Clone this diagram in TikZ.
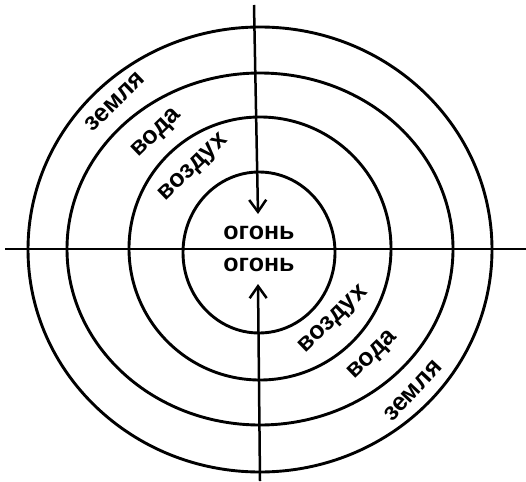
\documentclass[tikz,border=0pt]{standalone}
\usepackage{fontspec}
\setmainfont{Liberation Sans}
\usetikzlibrary{arrows.meta}
\tikzset{
  ring/.style={line width=2.9pt},
  axis/.style={line width=2.5pt},
  arr/.style={line width=2.5pt,-{Straight Barb[length=12pt,width=17pt,line width=2.5pt]}},
  lbl/.style={font=\bfseries\fontsize{25}{25}\selectfont, inner sep=0pt},
  rlbl/.style={lbl, rotate=44},
}
\begin{document}
\begin{tikzpicture}[x=1pt,y=-1pt]
\useasboundingbox (0,0) rectangle (526,481);
% rings
\draw[ring] (260,249.5) ellipse [x radius=232pt, y radius=222.5pt];
\draw[ring] (260,249) ellipse [x radius=193pt, y radius=176pt];
\draw[ring] (260,248.5) ellipse [x radius=131pt, y radius=131.5pt];
\draw[ring] (259,252.5) ellipse [x radius=76pt, y radius=80.5pt];
% axes
\coordinate (hl) at (5,249);
\coordinate (hr) at (526,249);
\draw[axis] (hl) -- (hr);
\coordinate (ts) at (254,5);
\coordinate (tt) at (258,214);
\coordinate (bs) at (260,481);
\coordinate (bt) at (258,284);
\draw[arr] (ts) -- (tt);
\draw[arr] (bs) -- (bt);
% labels
\node[lbl] (f1) at (259,233) {огонь};
\node[lbl] (f2) at (259,265) {огонь};
\node[rlbl] (e1) at (115,102) {земля};
\node[rlbl] (w1) at (157,134) {вода};
\node[rlbl] (a1) at (194,168) {воздух};
\node[rlbl] (a2) at (334,320) {воздух};
\node[rlbl] (w2) at (373,356) {вода};
\node[rlbl,rotate=3] (e2) at (413,391) {земля};
\end{tikzpicture}
\end{document}
